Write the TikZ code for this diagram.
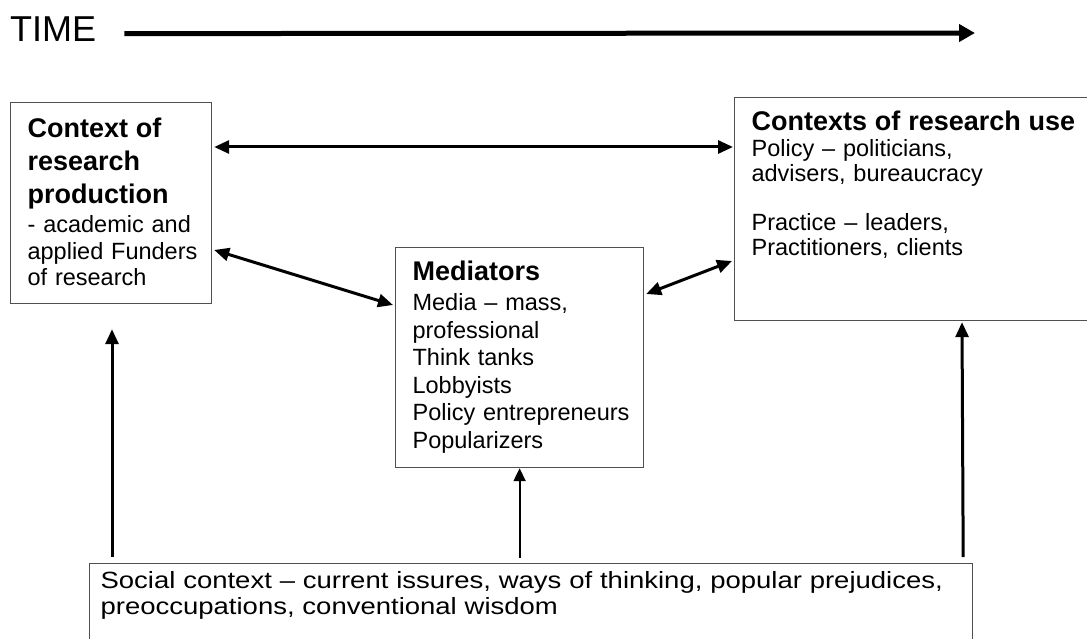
\documentclass[tikz,border=0pt]{standalone}
\usepackage{fontspec}
\setmainfont{Liberation Sans}
\newfontfamily\anchafont[FakeStretch=1.17,Ligatures=TeX]{Liberation Sans}
\usepackage{tikz}
\usetikzlibrary{arrows.meta}
\newcommand{\titlefont}{\bfseries\fontsize{27}{33}\selectfont}
\newcommand{\bodyfont}[1][26.5]{\fontsize{23.5}{#1}\selectfont}
\definecolor{grisito}{RGB}{80,80,80}
\tikzset{>={Triangle[length=15pt,width=13pt]}, caja/.style={draw=grisito, line width=1.2pt, anchor=north west, align=left, inner xsep=17pt, inner ysep=0pt, font=\bodyfont}, flecha/.style={line width=3pt}}

\begin{document}
\begin{tikzpicture}[x=1pt,y=-1pt]

	\useasboundingbox (0,0) rectangle (1087,639);

	\node[anchor=base west, inner sep=0pt, font=\fontsize{36}{40}\selectfont] (time) at (10,42) {TIME};
	\coordinate (finTiempo) at (975,33);
	\draw[-{Triangle[length=16pt,width=17pt]}, line width=5pt] ([xshift=28pt,yshift=-4pt]time.east) -- (finTiempo);

	\node[caja, text width=167pt, text height=35pt, text depth=166pt] (prod) at (10,102) {{\titlefont Context of\\ research\\ production\par}\vspace{2.5pt}\mbox{- academic and}\\ \mbox{applied Funders}\\ of research};
	\node[caja, text width=332pt, text height=33pt, text depth=190pt, font={\bodyfont[25]}] (use) at (734,97) {{\titlefont \mbox{Contexts of research use}\par}\vspace{1pt}Policy -- politicians,\\ advisers, bureaucracy\\[24pt] Practice -- leaders,\\ Practitioners, clients};
	\node[caja, text width=214pt, text height=33pt, text depth=187pt, font={\bodyfont[27.4]}] (med) at (395,247) {{\titlefont Mediators\par}\vspace{3pt}Media -- mass,\\ professional\\ Think tanks\\ Lobbyists\\ \mbox{Policy entrepreneurs}\\ Popularizers};
	\node[caja, inner xsep=11pt, text width=861pt, text height=25pt, text depth=62pt, font={\anchafont\bodyfont[26]}] (social) at (89,563) {\mbox{Social context -- current issures, ways of thinking, popular prejudices,}\\ preoccupations, conventional wisdom};

	\draw[<->, flecha] ([xshift=2pt,yshift=-45pt]prod.north east) -- ([xshift=-1pt,yshift=-50pt]use.north west);
	\draw[<->, flecha] ([xshift=2pt,yshift=-148pt]prod.north east) -- ([xshift=-2pt,yshift=-58pt]med.north west);
	\draw[<->, flecha] ([xshift=2pt,yshift=-47pt]med.north east) -- ([xshift=-2pt,yshift=-164pt]use.north west);

	\draw[->, flecha] ([xshift=23pt,yshift=6pt]social.north west) -- ([xshift=102pt,yshift=-25pt]prod.south west);
	\draw[->, line width=2pt, >={Triangle[length=13pt,width=12pt]}] (med.south) ++(0,90) -- (med.south);
	\draw[->, flecha] ([xshift=-10pt,yshift=6pt]social.north east) -- ([xshift=228pt,yshift=-1pt]use.south west);

\end{tikzpicture}
\end{document}
